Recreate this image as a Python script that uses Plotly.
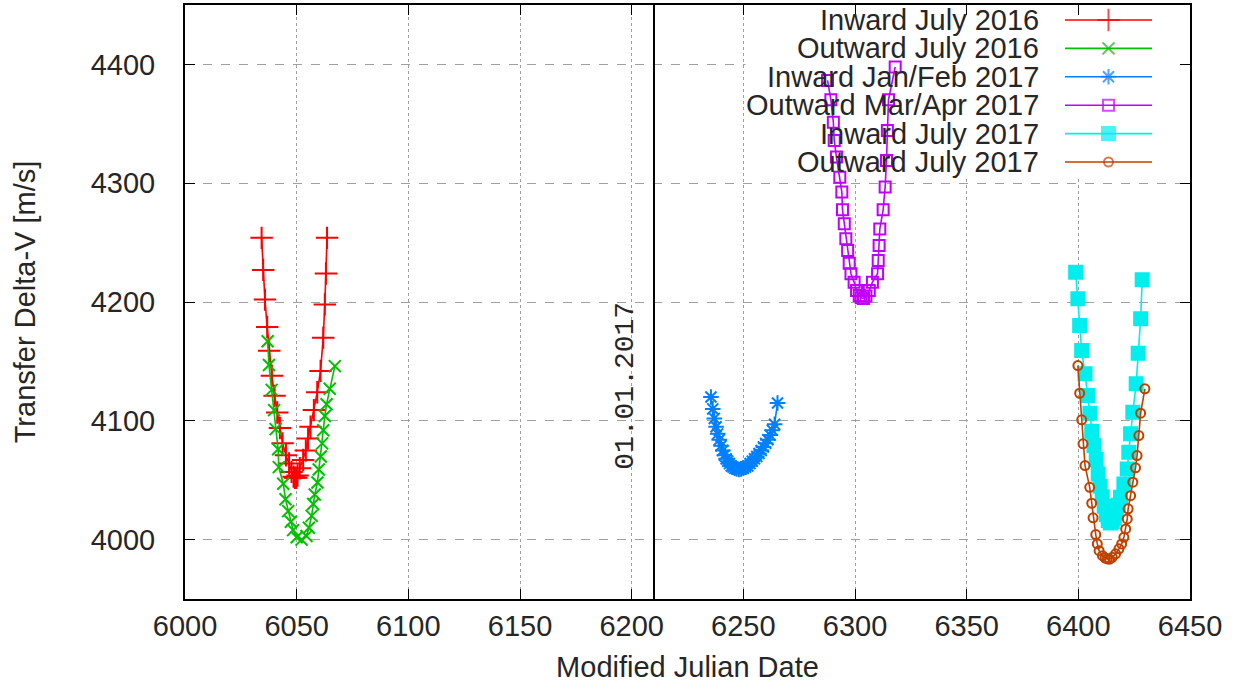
import plotly.graph_objects as go

# ---------------- data ----------------
inward_jul16_x = [6034.3, 6035.0, 6035.8, 6036.8, 6037.7, 6038.9, 6040.1, 6041.3, 6042.5, 6043.7,
                  6045.2, 6046.6, 6047.7, 6048.6, 6049.2, 6049.8, 6050.4, 6051.4, 6052.9, 6054.1,
                  6055.1, 6056.2, 6057.7, 6059.2, 6060.7, 6061.9, 6062.6, 6063.1, 6063.6]
inward_jul16_y = [4254, 4227, 4202, 4179, 4159, 4138, 4121, 4107, 4094, 4081,
                  4071, 4064, 4057, 4053, 4052, 4052, 4054, 4060, 4067, 4075,
                  4085, 4095, 4109, 4124, 4142, 4170, 4198, 4224, 4254]

outward_jul16_x = [6037.0, 6037.6, 6038.8, 6039.9, 6040.6, 6041.7, 6042.0, 6044.0, 6045.0, 6046.2,
                   6047.4, 6048.4, 6050.0, 6052.2, 6054.4, 6055.5, 6056.7, 6057.4, 6058.1, 6059.3,
                   6059.9, 6060.8, 6061.4, 6061.9, 6062.6, 6063.4, 6064.8, 6067.1]
outward_jul16_y = [4167, 4147, 4126, 4109, 4093, 4076, 4061, 4047, 4034, 4024,
                   4015, 4008, 4002, 4000, 4003, 4010, 4020, 4030, 4038, 4048,
                   4059, 4070, 4081, 4092, 4104, 4114, 4127, 4146]

inward_janfeb17_x = [6235.5, 6236.3, 6237.0, 6237.8, 6238.5, 6239.2, 6240.0, 6240.8, 6241.5, 6242.3,
                     6243.0, 6243.8, 6244.6, 6245.4, 6246.2, 6247.0, 6248.0, 6249.0, 6250.0, 6251.0,
                     6252.0, 6253.0, 6254.0, 6255.0, 6256.0, 6257.0, 6258.0, 6259.0, 6260.0, 6261.0,
                     6262.0, 6263.0, 6264.0, 6265.3]
inward_janfeb17_y = [4120, 4110, 4102, 4095, 4089, 4084, 4079, 4075, 4071, 4068,
                     4066, 4064, 4062, 4061, 4060, 4059.5, 4059, 4059.5, 4060, 4061,
                     4062, 4064, 4066, 4068, 4070, 4072.5, 4075, 4078, 4081, 4084,
                     4088, 4092, 4097, 4115]

outward_marapr17_x = [6287.7, 6289.2, 6290.3, 6290.7, 6291.7, 6293.2, 6294.1, 6294.4, 6295.2, 6295.9,
                      6296.7, 6297.4, 6298.2, 6299.6, 6300.7, 6301.9, 6302.8, 6303.8, 6304.9, 6306.4,
                      6307.8, 6310.1, 6310.4, 6310.8, 6311.1, 6312.6, 6313.5, 6314.1, 6314.5, 6315.0,
                      6318.0]
outward_marapr17_y = [4386.5, 4370.3, 4351.4, 4336, 4322, 4305, 4292.5, 4277.6, 4265.9, 4253.2,
                      4243.4, 4232.7, 4223.8, 4216.7, 4209.7, 4205.5, 4203.5, 4203, 4205, 4209.7,
                      4216.7, 4223.8, 4234.9, 4247.6, 4261.4, 4277.6, 4296.7, 4319.2, 4344.4, 4370.3,
                      4397.8]

inward_jul17_x = [6398.8, 6399.8, 6400.6, 6401.5, 6403.0, 6404.3, 6405.2, 6406.0, 6407.0, 6408.0,
                  6408.9, 6409.8, 6410.7, 6411.6, 6412.5, 6413.4, 6414.3, 6415.2, 6416.1, 6417.0,
                  6417.9, 6418.9, 6420.4, 6421.9, 6422.6, 6423.4, 6424.4, 6425.9, 6426.8, 6427.9,
                  6428.6]
inward_jul17_y = [4225, 4202.7, 4180.2, 4159.2, 4139.5, 4121.3, 4106.4, 4091.2, 4079.2, 4067.4,
                  4055.3, 4045, 4036, 4028, 4021, 4016, 4014, 4015, 4018, 4023,
                  4029, 4035.6, 4046.9, 4059.5, 4073.5, 4089, 4107.2, 4131.1, 4156.9, 4185.9,
                  4218.7]

outward_jul17_x = [6399.8, 6400.6, 6401.5, 6402.1, 6403.0, 6405.1, 6406.0, 6406.6, 6407.8, 6408.5,
                   6409.3, 6410.8, 6412.0, 6413.0, 6414.0, 6415.2, 6416.7, 6418.2, 6419.4, 6420.4,
                   6421.2, 6421.9, 6422.3, 6423.4, 6424.4, 6425.6, 6426.3, 6427.1, 6427.9, 6429.8]
outward_jul17_y = [4146.5, 4123.2, 4100.8, 4080.6, 4062.3, 4044, 4030.6, 4018.3, 4004.2, 3996.4,
                   3990.7, 3986.5, 3984.5, 3983.7, 3983.5, 3985.1, 3988, 3992.2, 3996.4, 4001.9,
                   4009, 4017.4, 4025.9, 4037, 4048.3, 4060.4, 4070.7, 4087.6, 4106.4, 4126.9]

series_names = ["Inward July 2016", "Outward July 2016", "Inward Jan/Feb 2017",
                "Outward Mar/Apr 2017", "Inward July 2017", "Outward July 2017"]
series_x = [inward_jul16_x, outward_jul16_x, inward_janfeb17_x,
            outward_marapr17_x, inward_jul17_x, outward_jul17_x]
series_y = [inward_jul16_y, outward_jul16_y, inward_janfeb17_y,
            outward_marapr17_y, inward_jul17_y, outward_jul17_y]

x_ticks = [6000, 6050, 6100, 6150, 6200, 6250, 6300, 6350, 6400, 6450]
y_ticks = [4000, 4100, 4200, 4300, 4400]
x_range = [6000, 6450]
y_range = [3950, 4450]
new_year_mjd = 6210
new_year_label = "01.01.2017"

# ---------------- styles ----------------
colors = ["#ff0000", "#00c000", "#0080ff", "#c000ff", "#00eeee", "#c04000"]
symbols = ["cross-thin", "x-thin", "asterisk", "square-open", "square", "circle-open"]
sizes = [16, 12, 13, 11, 13, 9]

W, H = 1233, 683
L, R, T, B = 185, 43, 5, 84

fig = go.Figure()

for name, xs, ys, c, s, sz in zip(series_names, series_x, series_y, colors, symbols, sizes):
    fig.add_trace(go.Scatter(
        x=xs, y=ys, mode="lines+markers", name=name, showlegend=False,
        line=dict(color=c, width=1.6),
        marker=dict(symbol=s, size=sz, color=c, line=dict(color=c, width=2)),
        xaxis="x", yaxis="y",
    ))

# custom gnuplot-style key (text left, sample right) on a pixel-scaled overlay axis
row0, row_step = 20, 28.4
text_right = 1041
sample_x0, sample_x1 = 1065, 1152
for i, (name, c, s, sz) in enumerate(zip(series_names, colors, symbols, sizes)):
    ry = row0 + i * row_step
    fig.add_trace(go.Scatter(
        x=[sample_x0, (sample_x0 + sample_x1) / 2, sample_x1], y=[ry, ry, ry],
        mode="lines+markers", showlegend=False, hoverinfo="skip",
        line=dict(color=c, width=1.6),
        marker=dict(symbol=s, size=[0, sz, 0], color=c, line=dict(color=c, width=2)),
        xaxis="x2", yaxis="y2",
    ))
    fig.add_annotation(x=text_right, y=ry, xref="x2", yref="y2", text=name,
                       showarrow=False, xanchor="right", yanchor="middle",
                       font=dict(family="Liberation Sans, Arial", size=29, color="#262626"))

# opaque key background hides grid lines
fig.add_shape(type="rect", xref="x", yref="y", x0=6251, x1=6450, y0=4306, y1=4450,
              fillcolor="white", line=dict(width=0), layer="between")

# 01.01.2017 marker line and label
fig.add_shape(type="line", xref="x", yref="paper", x0=new_year_mjd, x1=new_year_mjd, y0=0, y1=1,
              line=dict(color="black", width=2), layer="above")
fig.add_annotation(x=new_year_mjd, y=4129, xref="x", yref="y", text=new_year_label,
                   textangle=-90, showarrow=False, xanchor="right", yanchor="middle", xshift=-11,
                   font=dict(family="Liberation Mono, DejaVu Sans Mono, monospace", size=28, color="#262626"))

axis_font = dict(family="Liberation Sans, Arial", size=29, color="#262626")
fig.update_layout(
    width=W, height=H,
    margin=dict(l=L, r=R, t=T, b=B, pad=0, autoexpand=False),
    paper_bgcolor="white", plot_bgcolor="white",
    showlegend=False,
    xaxis=dict(range=x_range, tickvals=x_ticks, ticks="inside", ticklen=10, tickwidth=1,
               tickcolor="black", showline=True, linecolor="black", linewidth=2, mirror="ticks",
               showgrid=True, gridcolor="#a0a0a0", gridwidth=1, griddash="dot",
               zeroline=False, tickfont=axis_font, ticklabelstandoff=0, automargin=False,
               title=dict(text="Modified Julian Date", font=axis_font, standoff=17)),
    yaxis=dict(range=y_range, tickvals=y_ticks, ticks="inside", ticklen=10, tickwidth=1,
               tickcolor="black", showline=True, linecolor="black", linewidth=2, mirror="ticks",
               showgrid=True, gridcolor="#a0a0a0", gridwidth=1, griddash="dash",
               zeroline=False, tickfont=axis_font, ticklabelstandoff=22, automargin=False,
               title=dict(text="Transfer Delta-V [m/s]", font=axis_font, standoff=47)),
    xaxis2=dict(range=[L, W - R], overlaying="x", visible=False, fixedrange=True),
    yaxis2=dict(range=[H - B, T], overlaying="y", visible=False, fixedrange=True),
)

fig.write_html("out.html", config={"displayModeBar": False},
               post_script="document.body.style.margin='0';document.body.style.overflow='hidden';")
